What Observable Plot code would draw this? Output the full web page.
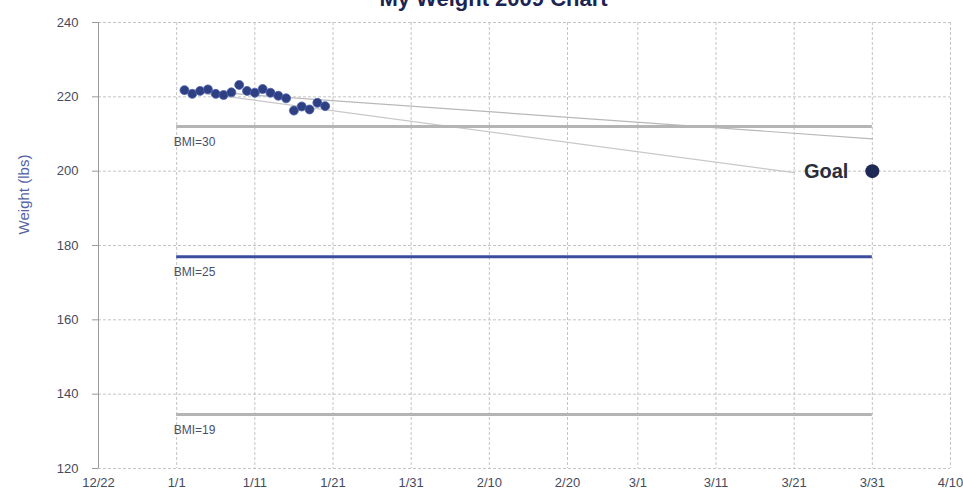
<!DOCTYPE html>
<html>
<head>
<meta charset="utf-8">
<script src="https://cdn.jsdelivr.net/npm/d3@7"></script>
<script src="https://cdn.jsdelivr.net/npm/@observablehq/plot@0.6"></script>
<style>
  html, body { margin: 0; padding: 0; background: #fff; overflow: hidden; }
  #chart { position: relative; width: 963px; height: 497px; }
  #title { position: absolute; left: 12px; width: 963px; top: -14px; text-align: center; line-height: 24px;
           font: bold 22px "Liberation Sans", Arial, sans-serif; color: #1c2452; }
  svg { overflow: visible; }
</style>
</head>
<body>
<div id="chart"><div id="title">My Weight 2009 Chart</div></div>
<script>
// ---- data ----
const weighDates = ["2009-01-02","2009-01-03","2009-01-04","2009-01-05","2009-01-06","2009-01-07","2009-01-08","2009-01-09","2009-01-10","2009-01-11","2009-01-12","2009-01-13","2009-01-14","2009-01-15","2009-01-16","2009-01-17","2009-01-18","2009-01-19","2009-01-20"];
const weights = [221.8, 220.8, 221.6, 222.0, 220.8, 220.5, 221.2, 223.2, 221.6, 221.1, 222.1, 221.1, 220.3, 219.6, 216.3, 217.4, 216.6, 218.4, 217.5];

const bmiLabels = ["BMI=30", "BMI=25", "BMI=19"];
const bmiWeights = [212, 177, 134.5];
const bmiStroke = ["#b4b4b4", "#3c4da0", "#b4b4b4"];
const bmiStart = "2009-01-01";
const bmiEnd = "2009-03-31";

const trendDates = ["2009-01-02", "2009-03-31"];
const trendWeights = [221.8, 208.7];
const planDates = ["2009-01-02", "2009-03-21"];
const planWeights = [221.6, 199.6];

const goalDate = "2009-03-31";
const goalWeight = 200;
const goalLabel = "Goal";

const xTickLabels = ["12/22","1/1","1/11","1/21","1/31","2/10","2/20","3/1","3/11","3/21","3/31","4/10"];
const xTickDates = ["2008-12-22","2009-01-01","2009-01-11","2009-01-21","2009-01-31","2009-02-10","2009-02-20","2009-03-01","2009-03-11","2009-03-21","2009-03-31","2009-04-10"];
const yTicks = [120, 140, 160, 180, 200, 220, 240];
const yLabel = "Weight (lbs)";

// ---- build ----
const D = s => new Date(s + "T00:00:00Z");
const points = weighDates.map((d, i) => ({date: D(d), w: weights[i]}));
const bmi = bmiLabels.map((l, i) => ({label: l, w: bmiWeights[i], stroke: bmiStroke[i], x1: D(bmiStart), x2: D(bmiEnd)}));
const trend = trendDates.map((d, i) => ({date: D(d), w: trendWeights[i]}));
const plan = planDates.map((d, i) => ({date: D(d), w: planWeights[i]}));
const ticksX = xTickDates.map(D);
const labelOf = new Map(ticksX.map((d, i) => [+d, xTickLabels[i]]));
const font = '"Liberation Sans", Arial, sans-serif';

const plot = Plot.plot({
  width: 963,
  height: 497,
  marginLeft: 98,
  marginRight: 13,
  marginTop: 22,
  marginBottom: 29,
  style: {fontFamily: font, fontSize: "12px", color: "#454b5e", background: "transparent"},
  x: {type: "utc", domain: [ticksX[0], ticksX[ticksX.length - 1]]},
  y: {domain: [120, 240]},
  marks: [
    Plot.gridX(ticksX, {stroke: "#c4c4c4", strokeOpacity: 1, strokeDasharray: "3,2"}),
    Plot.gridY(yTicks, {stroke: "#c4c4c4", strokeOpacity: 1, strokeDasharray: "3,2"}),
    Plot.ruleX([ticksX[0]], {stroke: "#9a9a9a"}),
    Plot.axisX(ticksX, {tickFormat: d => labelOf.get(+d), tickSize: 0, tickPadding: 9, fontSize: 13, fill: "#454b5e", label: null}),
    Plot.axisY(yTicks, {tickSize: 6, stroke: "#9a9a9a", tickPadding: 14, fontSize: 13, fill: "#454b5e", label: null}),
    Plot.text([yLabel], {frameAnchor: "top-left", textAnchor: "middle", dx: -80, dy: 172, rotate: -90, fontSize: 15, fill: "#5563a6"}),
    Plot.line(plan, {x: "date", y: "w", stroke: "#c8c8c8", strokeWidth: 1.2}),
    Plot.line(trend, {x: "date", y: "w", stroke: "#b8b8b8", strokeWidth: 1.2}),
    Plot.ruleY(bmi, {x1: "x1", x2: "x2", y: "w", stroke: "stroke", strokeWidth: 3}),
    Plot.text(bmi, {x: "x1", y: "w", text: "label", textAnchor: "start", dy: 16, dx: -3, fontSize: 12, fill: "#4a4f6a"}),
    Plot.dot(points, {x: "date", y: "w", r: 4.5, fill: "#2e3f82", stroke: "#4d62b0", strokeWidth: 0.8}),
    Plot.dot([{date: D(goalDate), w: goalWeight}], {x: "date", y: "w", r: 7, fill: "#1d2a55"}),
    Plot.text([{date: D(goalDate), w: goalWeight, t: goalLabel}], {x: "date", y: "w", text: "t", textAnchor: "end", dx: -24, fontSize: 20, fontWeight: "bold", fill: "#2a2d3a"})
  ]
});
document.getElementById("chart").appendChild(plot);
</script>
</body>
</html>
